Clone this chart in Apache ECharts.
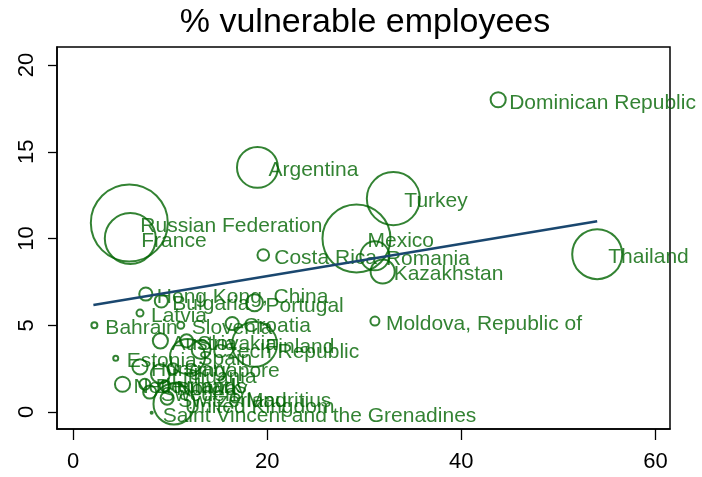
<!DOCTYPE html>
<html>
<head>
<meta charset="utf-8">
<script src="https://cdn.jsdelivr.net/npm/echarts@6/dist/echarts.min.js"></script>
<style>
  body { margin: 0; background: #fff; }
  #main { width: 702px; height: 477px; }
</style>
</head>
<body>
<div id="main"></div>
<script>
// countries, horizontal value, % vulnerable employees, marker weight
const countries = [
  'Dominican Republic', 'Argentina', 'Turkey', 'Russian Federation', 'France',
  'Mexico', 'Costa Rica', 'Romania', 'Kazakhstan', 'Thailand',
  'Moldova, Republic of', 'Hong Kong, China', 'Bulgaria', 'Portugal', 'Latvia',
  'Bahrain', 'Slovenia', 'Croatia', 'Austria', 'Slovakia',
  'Finland', 'Czech Republic', 'Spain', 'Estonia', 'Hungary',
  'Singapore', 'Lithuania', 'Netherlands', 'Denmark', 'Norway',
  'Sweden', 'Switzerland', 'Mauritius', 'United Kingdom',
  'Saint Vincent and the Grenadines'
];
const xValues = [
  43.8, 19.0, 33.0, 5.8, 5.9,
  29.2, 19.6, 31.1, 31.9, 54.0,
  31.1, 7.5, 9.1, 18.7, 6.9,
  2.2, 11.1, 16.4, 9.0, 11.7,
  18.7, 13.2, 11.8, 4.4, 6.9,
  10.3, 9.0, 5.1, 7.4, 9.5,
  7.9, 9.7, 16.7, 10.4,
  8.1
];
const vulnerable = [
  18.0, 14.1, 12.3, 10.9, 10.0,
  10.0, 9.05, 9.0, 8.1, 9.1,
  5.24, 6.8, 6.4, 6.3, 5.7,
  5.0, 5.0, 5.1, 4.1, 4.1,
  3.9, 3.6, 3.2, 3.1, 2.6,
  2.5, 2.2, 1.6, 1.6, 1.5,
  1.15, 0.8, 0.8, 0.46,
  -0.05
];
const weights = [
  2.6, 17.6, 29.2, 60.8, 27.0,
  47.6, 1.6, 9.0, 6.3, 26.0,
  1.0, 2.0, 2.0, 3.2, 0.64,
  0.49, 0.64, 2.0, 2.6, 2.0,
  21.2, 4.0, 13.0, 0.36, 2.6,
  1.44, 4.0, 2.6, 1.44, 1.44,
  2.0, 2.0, 1.0, 17.6,
  0.09
];
// fitted line end points
const fitX = [2.1, 54.0];
const fitY = [6.17, 11.0];
const xTicks = [0, 20, 40, 60];
const yTicks = [0, 5, 10, 15, 20];

const green = '#006400';
const font = "'Liberation Sans', Arial, sans-serif";

const chart = echarts.init(document.getElementById('main'), null, { renderer: 'canvas' });

chart.setOption({
  animation: false,
  backgroundColor: '#fff',
  graphic: [{
    type: 'text',
    x: 365, y: 23,
    style: {
      text: '% vulnerable employees',
      font: '34px ' + font,
      fill: '#000',
      textAlign: 'center',
      textVerticalAlign: 'middle'
    }
  }],
  grid: {
    left: 57, right: 32, top: 47, bottom: 48,
    show: true, borderColor: '#000', borderWidth: 1.5
  },
  xAxis: {
    type: 'value',
    min: -1.65, max: 61.5,
    splitLine: { show: false },
    axisLine: { show: true, onZero: false, lineStyle: { color: '#000', width: 1.5 } },
    axisTick: { show: true, customValues: xTicks, length: 11, lineStyle: { color: '#000', width: 1.3 } },
    axisLabel: { customValues: xTicks, fontSize: 22, fontFamily: font, color: '#000', margin: 22 }
  },
  yAxis: {
    type: 'value',
    min: -0.98, max: 21.04,
    splitLine: { show: false },
    axisLine: { show: true, onZero: false, lineStyle: { color: '#000', width: 1.5 } },
    axisTick: { show: true, customValues: yTicks, length: 9, lineStyle: { color: '#000', width: 1.3 } },
    axisLabel: { customValues: yTicks, rotate: 90, fontSize: 22, fontFamily: font, color: '#000', margin: 19 }
  },
  series: [{
    type: 'scatter',
    data: countries.map((c, i) => [xValues[i], vulnerable[i], weights[i], c]),
    symbol: 'circle',
    symbolSize: v => Math.max(2, 10 * Math.sqrt(v[2]) - 1),
    itemStyle: { color: 'rgba(0,0,0,0)', borderColor: green, borderWidth: 2 },
    label: {
      show: true,
      position: 'inside',
      align: 'left',
      offset: [11, 3],
      formatter: p => p.data[3],
      color: green,
      fontSize: 21,
      fontFamily: font
    },
    emphasis: { disabled: true },
    z: 2
  }, {
    type: 'line',
    data: fitX.map((x, i) => [x, fitY[i]]),
    symbol: 'none',
    lineStyle: { color: '#1a476f', width: 2.5 },
    z: 3
  }]
});
</script>
</body>
</html>
